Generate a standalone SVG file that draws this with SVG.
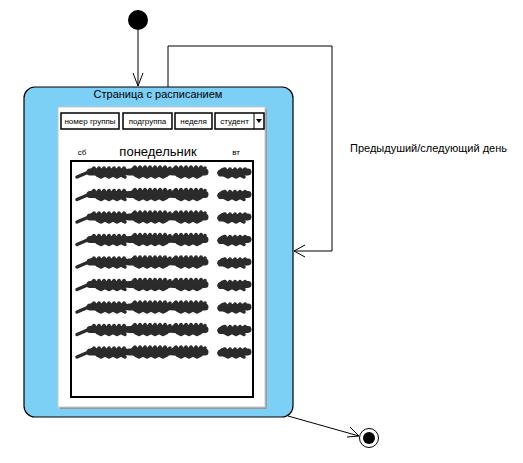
<svg xmlns="http://www.w3.org/2000/svg" xmlns:xlink="http://www.w3.org/1999/xlink" width="523" height="463" viewBox="0 0 523 463">
<style>
text{font-family:"Liberation Sans",Arial,sans-serif;fill:#000}
.edge{fill:none;stroke:#000;stroke-width:1}
.head{fill:none;stroke:#000;stroke-width:1}
.btn{fill:#fff;stroke:#000;stroke-width:1.5}
.bt{font-size:8px;text-anchor:middle}
.scr{fill:none;stroke:#2b2b2b;stroke-linejoin:round;stroke-linecap:round}
</style>
<defs>
<g id="longS">
<path class="scr" stroke-width="3.5" d="M0,5 L14,-1"/>
<path class="scr" stroke-width="7" d="M13,0 L48,0 M52,0 L92,0 M96,0 L128,0"/>
<path class="scr" stroke-width="3.5" d="M14,-1 l3,-3 l2,4 l3,-4 l2,4 l3,-4 l2,4 l3,-4 l2,4 l3,-4 l2,4 l3,-4 l2,4 l3,-4 l2,4 M55,-2 l3,-3 l2,4 l3,-4 l2,4 l3,-4 l2,4 l3,-4 l2,4 l3,-4 l2,4 l3,-4 l2,4 l3,-4 l2,4 l3,-3 M96,-2 l3,-3 l2,4 l3,-4 l2,4 l3,-4 l2,4 l3,-4 l2,4 l3,-4 l2,4 l3,-4 l2,4 l2,-3 M20,3 l4,2 l4,-2 l4,2 l4,-2 l4,2 l4,-2 l4,2 M58,3 l4,2 l4,-2 l4,2 l4,-2 l4,2 l4,-2 l4,2 l4,-2 M100,3 l4,2 l4,-2 l4,2 l4,-2 l4,2 l4,-2"/>
</g>
<g id="shortS">
<path class="scr" stroke-width="7" d="M3,1 L30,0"/>
<path class="scr" stroke-width="3.5" d="M1,1 l3,-3 l3,-1 l2,4 l3,-4 l2,4 l3,-4 l2,4 l3,-4 l2,4 l3,-4 l2,4 M6,3 l4,2 l4,-2 l4,2 l4,-2 l4,2"/>
</g>
</defs>
<g id="initial"><circle cx="138" cy="20" r="10" fill="#000"/></g>
<g id="final"><circle cx="369" cy="438" r="9.5" fill="#fff" stroke="#000" stroke-width="1"/><circle cx="369" cy="438" r="6" fill="#000"/></g>
<g id="state">
<rect x="24" y="87" width="269" height="330" rx="11" fill="#7ccff5" stroke="#000" stroke-width="1.2"/>
<text x="158" y="98" font-size="11" text-anchor="middle">Страница с расписанием</text>
<rect x="60" y="109" width="207" height="300" fill="#9a9a9a"/>
<rect x="58" y="107" width="207" height="300" fill="#fff" stroke="#c8c8c8" stroke-width="1"/>
<rect x="61" y="113" width="58" height="16" class="btn"/>
<text x="90" y="124" class="bt">номер группы</text>
<rect x="123" y="113" width="49" height="16" class="btn"/>
<text x="147.5" y="124" class="bt">подгруппа</text>
<rect x="175" y="113" width="37" height="16" class="btn"/>
<text x="193.5" y="124" class="bt">неделя</text>
<rect x="215" y="113" width="49" height="16" class="btn"/>
<line x1="254" y1="113" x2="254" y2="129" stroke="#000" stroke-width="1"/>
<text x="234.5" y="124" class="bt">студент</text>
<path d="M256,119 L262,119 L259,123 Z" fill="#000"/>
<text x="82" y="155" font-size="8" text-anchor="middle">сб</text>
<text x="158" y="156" font-size="13" text-anchor="middle">понедельник</text>
<text x="236" y="155" font-size="8" text-anchor="middle">вт</text>
<rect x="71" y="161" width="182" height="236" fill="#fff" stroke="#000" stroke-width="2"/>
<use xlink:href="#longS" x="77" y="172"/><use xlink:href="#shortS" x="218" y="172"/>
<use xlink:href="#longS" x="77" y="194.5"/><use xlink:href="#shortS" x="218" y="194.5"/>
<use xlink:href="#longS" x="77" y="217"/><use xlink:href="#shortS" x="218" y="217"/>
<use xlink:href="#longS" x="77" y="239.5"/><use xlink:href="#shortS" x="218" y="239.5"/>
<use xlink:href="#longS" x="77" y="262"/><use xlink:href="#shortS" x="218" y="262"/>
<use xlink:href="#longS" x="77" y="284.5"/><use xlink:href="#shortS" x="218" y="284.5"/>
<use xlink:href="#longS" x="77" y="307"/><use xlink:href="#shortS" x="218" y="307"/>
<use xlink:href="#longS" x="77" y="329.5"/><use xlink:href="#shortS" x="218" y="329.5"/>
<use xlink:href="#longS" x="77" y="352"/><use xlink:href="#shortS" x="218" y="352"/>
</g>
<g id="connectors">
<line class="edge" x1="138" y1="30" x2="138" y2="86"/>
<path class="head" d="M133,73 L138,86 L143,73"/>
<path class="edge" d="M168,87 L168,46 L332,46 L332,251 L294,251"/>
<path class="head" d="M305,245 L294,251 L305,257"/>
<text x="350" y="152" font-size="11">Предыдуший/следующий день</text>
<line class="edge" x1="288" y1="416" x2="359" y2="436"/>
<path class="head" d="M350,427 L359,436 L347,437"/>
</g>
</svg>
